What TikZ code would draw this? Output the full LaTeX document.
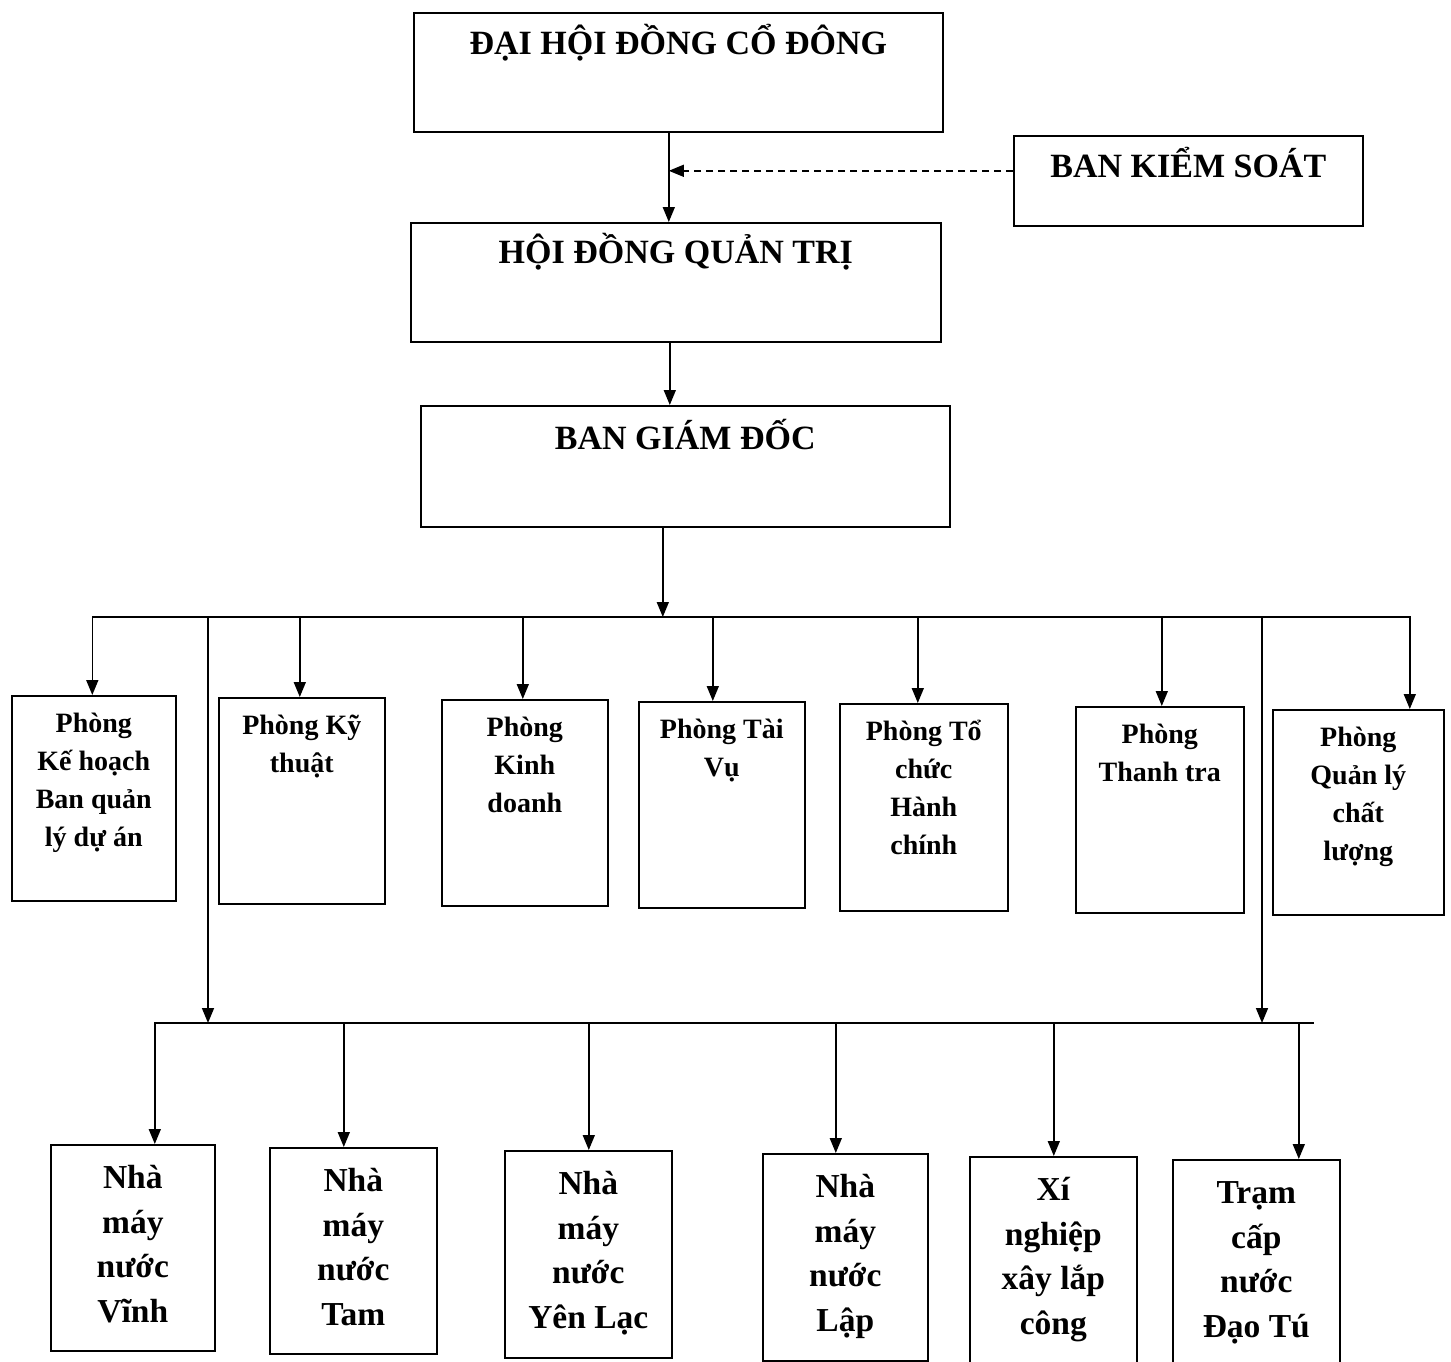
\documentclass[tikz,border=0pt]{standalone}
\usepackage{fontspec}
\setmainfont{Liberation Serif}
\usetikzlibrary{arrows.meta}
\tikzset{
  ob/.style={draw, line width=1.6pt, inner sep=0pt, anchor=north west, font=\bfseries},
  arr/.style={line width=1.6pt, -{Triangle[length=15pt,width=12pt]}},
  busline/.style={line width=1.6pt},
  dasharr/.style={line width=1.4pt, dash pattern=on 7pt off 5pt, -{Triangle[length=15pt,width=12pt]}},
}
\newcommand\orgbox[8]{\node[ob] (#1) at (#2,#3) {\parbox[t][#5pt][t]{#4pt}{\centering#7\rule{0pt}{#6pt}#8}};}
\newcommand\hfont{\fontsize{34pt}{40pt}\selectfont}
\newcommand\dfont{\fontsize{28pt}{38pt}\selectfont}
\newcommand\bfnt{\fontsize{33.5pt}{44.5pt}\selectfont}
\begin{document}
\begin{tikzpicture}[x=1pt,y=-1pt]
\useasboundingbox[fill=white] (0,0) rectangle (1451,1362);
% top level
\orgbox{dhd}{413}{12}{529}{119}{42}{\hfont}{ĐẠI HỘI ĐỒNG CỔ ĐÔNG}
\orgbox{hdqt}{410}{222}{530}{119}{41}{\hfont}{HỘI ĐỒNG QUẢN TRỊ}
\orgbox{bgd}{420}{405}{529}{121}{44}{\hfont}{BAN GIÁM ĐỐC}
\orgbox{bks}{1013}{135}{349}{90}{42}{\hfont}{BAN KIỂM SOÁT}
% departments
\orgbox{p1}{11}{695}{164}{205}{37}{\dfont}{Phòng\\Kế hoạch\\Ban quản\\lý dự án}
\orgbox{p2}{218}{697}{166}{206}{37}{\dfont}{Phòng Kỹ\\thuật}
\orgbox{p3}{441}{699}{166}{206}{37}{\dfont}{Phòng\\Kinh\\doanh}
\orgbox{p4}{638}{701}{166}{206}{37}{\dfont}{Phòng Tài\\Vụ}
\orgbox{p5}{839}{703}{168}{207}{37}{\dfont}{Phòng Tổ\\chức\\Hành\\chính}
\orgbox{p6}{1075}{706}{168}{206}{37}{\dfont}{Phòng\\Thanh tra}
\orgbox{p7}{1272}{709}{171}{205}{37}{\dfont}{Phòng\\Quản lý\\chất\\lượng}
% units
\orgbox{b1}{50}{1144}{164}{206}{44}{\bfnt}{Nhà\\máy\\nước\\Vĩnh}
\orgbox{b2}{269}{1147}{167}{206}{44}{\bfnt}{Nhà\\máy\\nước\\Tam}
\orgbox{b3}{504}{1150}{167}{207}{44}{\bfnt}{Nhà\\máy\\nước\\Yên Lạc}
\orgbox{b4}{762}{1153}{165}{207}{44}{\bfnt}{Nhà\\máy\\nước\\Lập}
\orgbox{b5}{969}{1156}{167}{206}{44}{\bfnt}{Xí\\nghiệp\\xây lắp\\công}
\orgbox{b6}{1172}{1159}{167}{212}{44}{\bfnt}{Trạm\\cấp\\nước\\Đạo Tú}
% coordinates
\coordinate (dv) at ([xshift=-9.5pt]dhd.south);
\coordinate (hv) at ([xshift=-6pt]hdqt.south);
\coordinate (gv) at ([xshift=-22.5pt]bgd.south);
\coordinate (ks) at ([yshift=10pt]bks.west);
\coordinate (tb) at (0,617);
\coordinate (bb) at (0,1023);
\coordinate (bbR) at (1313,1023);
\coordinate (dl) at (208,617);
\coordinate (dr) at (1262,617);
\coordinate (a1) at ([xshift=-1.5pt]p1.north);
\coordinate (a2) at ([xshift=-2pt]p2.north);
\coordinate (a3) at ([xshift=-2pt]p3.north);
\coordinate (a4) at ([xshift=-9pt]p4.north);
\coordinate (a5) at ([xshift=-6pt]p5.north);
\coordinate (a6) at ([xshift=2pt]p6.north);
\coordinate (a7) at ([xshift=51.5pt]p7.north);
\coordinate (c1) at ([xshift=22pt]b1.north);
\coordinate (c2) at ([xshift=-9.5pt]b2.north);
\coordinate (c3) at ([xshift=0.5pt]b3.north);
\coordinate (c4) at ([xshift=-9.5pt]b4.north);
\coordinate (c5) at ([xshift=0.5pt]b5.north);
\coordinate (c6) at ([xshift=42.5pt]b6.north);
% top connectors
\draw[arr] (dv) -- (dv |- hdqt.north);
\draw[dasharr] (ks) -- (ks -| dv);
\draw[arr] (hv) -- (hv |- bgd.north);
\draw[arr] (gv) -- (gv |- tb);
% department bus
\draw[busline, line cap=rect] (a1 |- tb) -- (a7 |- tb);
\foreach \a in {a1,a2,a3,a4,a5,a6,a7} \draw[arr] (\a |- tb) -- (\a);
% drops to unit bus
\draw[arr] (dl) -- (dl |- bb);
\draw[arr] (dr) -- (dr |- bb);
% unit bus
\draw[busline, line cap=rect] (c1 |- bb) -- (bbR);
\foreach \c in {c1,c2,c3,c4,c5,c6} \draw[arr] (\c |- bb) -- (\c);
\end{tikzpicture}
\end{document}
